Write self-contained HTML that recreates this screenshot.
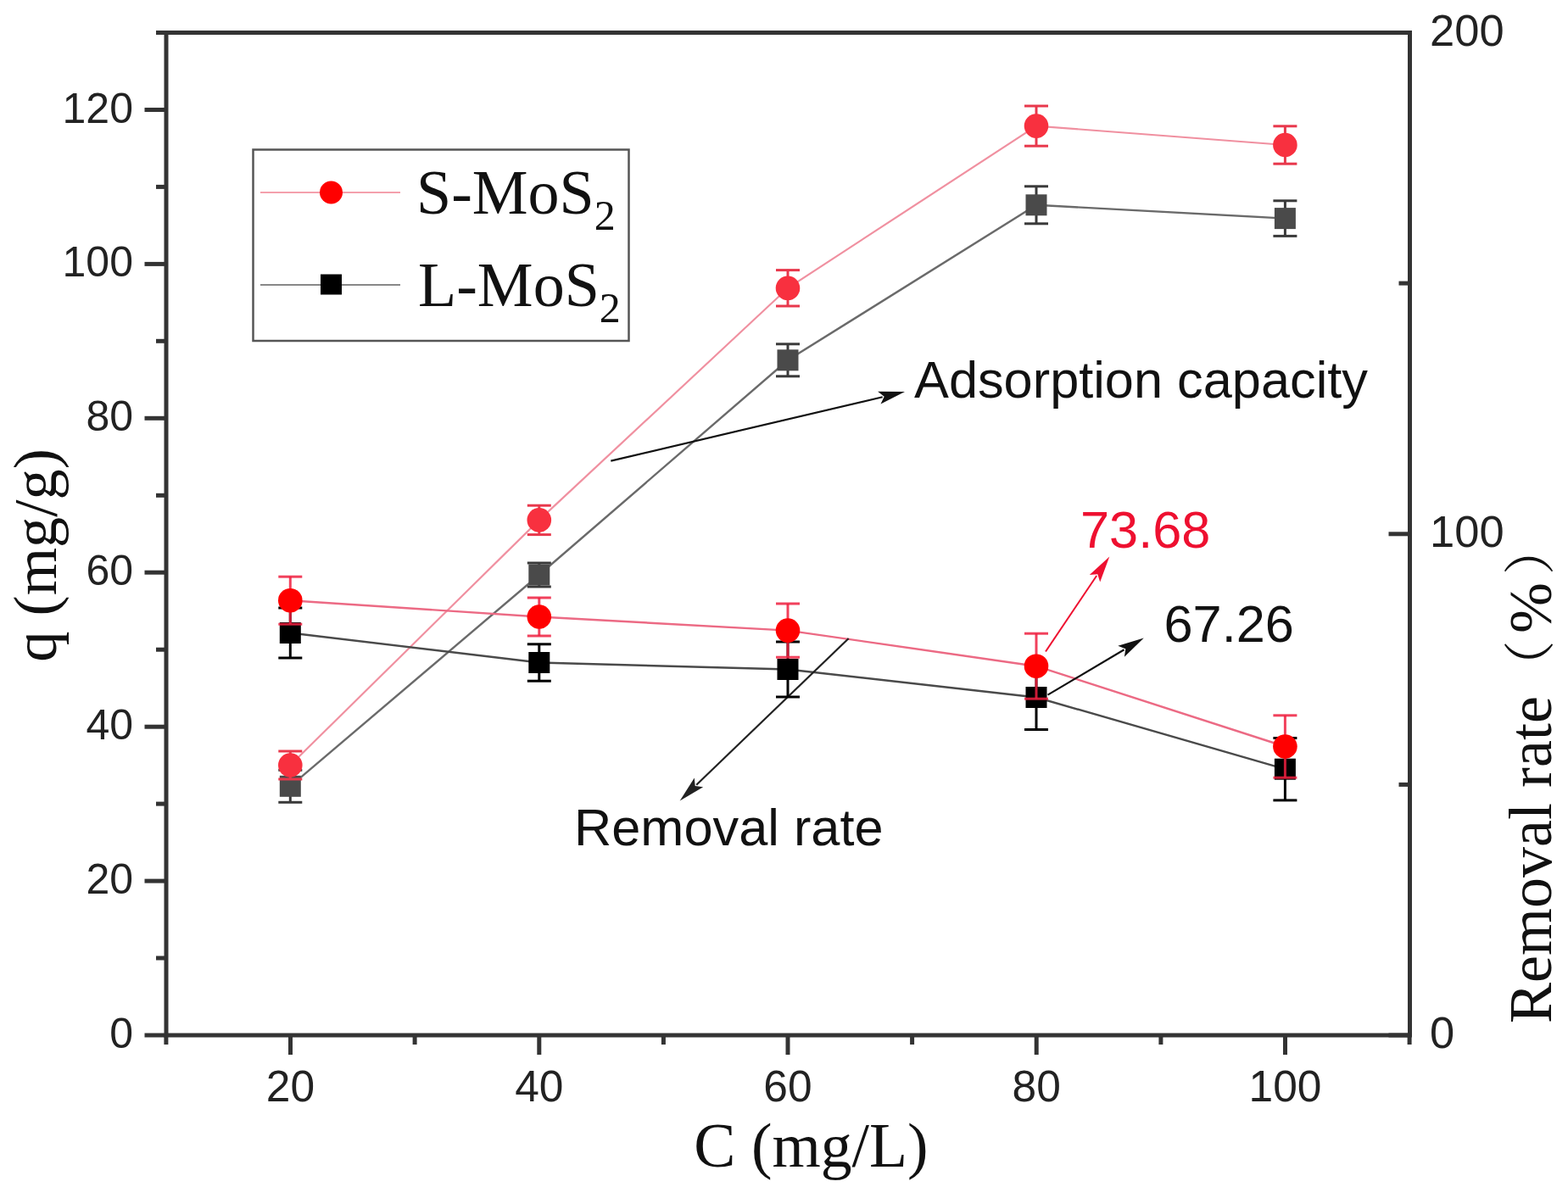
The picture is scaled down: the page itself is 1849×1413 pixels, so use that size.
<!DOCTYPE html>
<html><head><meta charset="utf-8"><title>Adsorption chart</title>
<style>
html,body{margin:0;padding:0;background:#fff;}
body{width:1849px;height:1413px;overflow:hidden;}
svg{display:block;}
</style></head>
<body>
<svg width="1849" height="1413" viewBox="0 0 1849 1413">
<rect width="1849" height="1413" fill="#fff"/>
<polyline points="342.3,902.5 635.8,613.4 929.0,339.8 1222.0,148.6 1515.4,171.0" fill="none" stroke="#f090a0" stroke-width="2.2" stroke-opacity="1.0"/>
<polyline points="342.3,927.3 635.8,678.0 929.0,424.8 1222.0,241.8 1515.4,257.6" fill="none" stroke="#6a6a6a" stroke-width="2.4" stroke-opacity="1.0"/>
<polyline points="342.3,708.2 635.8,727.5 929.0,743.6 1222.0,785.7 1515.4,880.5" fill="none" stroke="#ec6a84" stroke-width="2.4" stroke-opacity="1.0"/>
<polyline points="342.3,746.5 635.8,781.5 929.0,789.5 1222.0,822.5 1515.4,907.2" fill="none" stroke="#4a4a4a" stroke-width="2.4" stroke-opacity="1.0"/>
<line x1="720.3" y1="543.6" x2="1040.7" y2="468.2" stroke="#111" stroke-width="2.2"/>
<polygon points="1067.0,462.0 1038.5,476.4 1042.7,467.7 1035.1,461.8" fill="#111"/>
<line x1="1000.7" y1="753.0" x2="821.2" y2="925.7" stroke="#222" stroke-width="2.2"/>
<polygon points="801.7,944.4 818.8,917.5 819.7,927.1 829.2,928.3" fill="#222"/>
<line x1="1233.0" y1="768.5" x2="1293.2" y2="679.0" stroke="#ee1030" stroke-width="2.0"/>
<polygon points="1308.3,656.6 1297.2,686.5 1294.3,677.3 1284.8,678.1" fill="#ee1030"/>
<line x1="1235.5" y1="819.6" x2="1325.6" y2="766.3" stroke="#111" stroke-width="2.2"/>
<polygon points="1348.8,752.5 1325.9,774.7 1327.3,765.2 1318.3,761.8" fill="#111"/>
<g stroke="#3a3a3a" stroke-width="3" stroke-opacity="1.0" fill="none"><line x1="342.3" y1="908.3" x2="342.3" y2="946.3"/><line x1="328.3" y1="908.3" x2="356.3" y2="908.3"/><line x1="328.3" y1="946.3" x2="356.3" y2="946.3"/></g>
<rect x="329.8" y="914.8" width="25" height="25" fill="#4a4a4a" fill-opacity="1.0"/>
<g stroke="#3a3a3a" stroke-width="3" stroke-opacity="1.0" fill="none"><line x1="635.8" y1="664.0" x2="635.8" y2="692.0"/><line x1="621.8" y1="664.0" x2="649.8" y2="664.0"/><line x1="621.8" y1="692.0" x2="649.8" y2="692.0"/></g>
<rect x="623.3" y="665.5" width="25" height="25" fill="#4a4a4a" fill-opacity="1.0"/>
<g stroke="#3a3a3a" stroke-width="3" stroke-opacity="1.0" fill="none"><line x1="929.0" y1="405.8" x2="929.0" y2="443.8"/><line x1="915.0" y1="405.8" x2="943.0" y2="405.8"/><line x1="915.0" y1="443.8" x2="943.0" y2="443.8"/></g>
<rect x="916.5" y="412.3" width="25" height="25" fill="#4a4a4a" fill-opacity="1.0"/>
<g stroke="#3a3a3a" stroke-width="3" stroke-opacity="1.0" fill="none"><line x1="1222.0" y1="219.8" x2="1222.0" y2="263.8"/><line x1="1208.0" y1="219.8" x2="1236.0" y2="219.8"/><line x1="1208.0" y1="263.8" x2="1236.0" y2="263.8"/></g>
<rect x="1209.5" y="229.3" width="25" height="25" fill="#4a4a4a" fill-opacity="1.0"/>
<g stroke="#3a3a3a" stroke-width="3" stroke-opacity="1.0" fill="none"><line x1="1515.4" y1="236.8" x2="1515.4" y2="278.4"/><line x1="1501.4" y1="236.8" x2="1529.4" y2="236.8"/><line x1="1501.4" y1="278.4" x2="1529.4" y2="278.4"/></g>
<rect x="1502.9" y="245.1" width="25" height="25" fill="#4a4a4a" fill-opacity="1.0"/>
<g stroke="#e8384c" stroke-width="3" stroke-opacity="1.0" fill="none"><line x1="342.3" y1="886.0" x2="342.3" y2="919.0"/><line x1="328.3" y1="886.0" x2="356.3" y2="886.0"/><line x1="328.3" y1="919.0" x2="356.3" y2="919.0"/></g>
<circle cx="342.3" cy="902.5" r="14.3" fill="#f8303f" fill-opacity="1.0"/>
<g stroke="#e8384c" stroke-width="3" stroke-opacity="1.0" fill="none"><line x1="635.8" y1="596.2" x2="635.8" y2="630.6"/><line x1="621.8" y1="596.2" x2="649.8" y2="596.2"/><line x1="621.8" y1="630.6" x2="649.8" y2="630.6"/></g>
<circle cx="635.8" cy="613.4" r="14.3" fill="#f8303f" fill-opacity="1.0"/>
<g stroke="#e8384c" stroke-width="3" stroke-opacity="1.0" fill="none"><line x1="929.0" y1="318.6" x2="929.0" y2="361.0"/><line x1="915.0" y1="318.6" x2="943.0" y2="318.6"/><line x1="915.0" y1="361.0" x2="943.0" y2="361.0"/></g>
<circle cx="929.0" cy="339.8" r="14.3" fill="#f8303f" fill-opacity="1.0"/>
<g stroke="#e8384c" stroke-width="3" stroke-opacity="1.0" fill="none"><line x1="1222.0" y1="125.0" x2="1222.0" y2="172.2"/><line x1="1208.0" y1="125.0" x2="1236.0" y2="125.0"/><line x1="1208.0" y1="172.2" x2="1236.0" y2="172.2"/></g>
<circle cx="1222.0" cy="148.6" r="14.3" fill="#f8303f" fill-opacity="1.0"/>
<g stroke="#e8384c" stroke-width="3" stroke-opacity="1.0" fill="none"><line x1="1515.4" y1="148.8" x2="1515.4" y2="193.2"/><line x1="1501.4" y1="148.8" x2="1529.4" y2="148.8"/><line x1="1501.4" y1="193.2" x2="1529.4" y2="193.2"/></g>
<circle cx="1515.4" cy="171.0" r="14.3" fill="#f8303f" fill-opacity="1.0"/>
<g stroke="#000" stroke-width="3" stroke-opacity="1.0" fill="none"><line x1="342.3" y1="717.0" x2="342.3" y2="776.0"/><line x1="328.3" y1="717.0" x2="356.3" y2="717.0"/><line x1="328.3" y1="776.0" x2="356.3" y2="776.0"/></g>
<rect x="329.8" y="734.0" width="25" height="25" fill="#000" fill-opacity="1.0"/>
<g stroke="#000" stroke-width="3" stroke-opacity="1.0" fill="none"><line x1="635.8" y1="759.8" x2="635.8" y2="803.2"/><line x1="621.8" y1="759.8" x2="649.8" y2="759.8"/><line x1="621.8" y1="803.2" x2="649.8" y2="803.2"/></g>
<rect x="623.3" y="769.0" width="25" height="25" fill="#000" fill-opacity="1.0"/>
<g stroke="#000" stroke-width="3" stroke-opacity="1.0" fill="none"><line x1="929.0" y1="757.0" x2="929.0" y2="822.0"/><line x1="915.0" y1="757.0" x2="943.0" y2="757.0"/><line x1="915.0" y1="822.0" x2="943.0" y2="822.0"/></g>
<rect x="916.5" y="777.0" width="25" height="25" fill="#000" fill-opacity="1.0"/>
<g stroke="#000" stroke-width="3" stroke-opacity="1.0" fill="none"><line x1="1222.0" y1="784.5" x2="1222.0" y2="860.5"/><line x1="1208.0" y1="784.5" x2="1236.0" y2="784.5"/><line x1="1208.0" y1="860.5" x2="1236.0" y2="860.5"/></g>
<rect x="1209.5" y="810.0" width="25" height="25" fill="#000" fill-opacity="1.0"/>
<g stroke="#000" stroke-width="3" stroke-opacity="1.0" fill="none"><line x1="1515.4" y1="870.5" x2="1515.4" y2="943.9"/><line x1="1501.4" y1="870.5" x2="1529.4" y2="870.5"/><line x1="1501.4" y1="943.9" x2="1529.4" y2="943.9"/></g>
<rect x="1502.9" y="894.7" width="25" height="25" fill="#000" fill-opacity="1.0"/>
<g stroke="#ee2040" stroke-width="3" stroke-opacity="0.85" fill="none"><line x1="342.3" y1="680.2" x2="342.3" y2="736.2"/><line x1="328.3" y1="680.2" x2="356.3" y2="680.2"/><line x1="328.3" y1="736.2" x2="356.3" y2="736.2"/></g>
<circle cx="342.3" cy="708.2" r="14.3" fill="#ff0000" fill-opacity="1.0"/>
<g stroke="#ee2040" stroke-width="3" stroke-opacity="0.85" fill="none"><line x1="635.8" y1="705.0" x2="635.8" y2="750.0"/><line x1="621.8" y1="705.0" x2="649.8" y2="705.0"/><line x1="621.8" y1="750.0" x2="649.8" y2="750.0"/></g>
<circle cx="635.8" cy="727.5" r="14.3" fill="#ff0000" fill-opacity="1.0"/>
<g stroke="#ee2040" stroke-width="3" stroke-opacity="0.85" fill="none"><line x1="929.0" y1="712.0" x2="929.0" y2="775.2"/><line x1="915.0" y1="712.0" x2="943.0" y2="712.0"/><line x1="915.0" y1="775.2" x2="943.0" y2="775.2"/></g>
<circle cx="929.0" cy="743.6" r="14.3" fill="#ff0000" fill-opacity="1.0"/>
<g stroke="#ee2040" stroke-width="3" stroke-opacity="0.85" fill="none"><line x1="1222.0" y1="747.2" x2="1222.0" y2="824.2"/><line x1="1208.0" y1="747.2" x2="1236.0" y2="747.2"/><line x1="1208.0" y1="824.2" x2="1236.0" y2="824.2"/></g>
<circle cx="1222.0" cy="785.7" r="14.3" fill="#ff0000" fill-opacity="1.0"/>
<g stroke="#ee2040" stroke-width="3" stroke-opacity="0.85" fill="none"><line x1="1515.4" y1="843.8" x2="1515.4" y2="917.2"/><line x1="1501.4" y1="843.8" x2="1529.4" y2="843.8"/><line x1="1501.4" y1="917.2" x2="1529.4" y2="917.2"/></g>
<circle cx="1515.4" cy="880.5" r="14.3" fill="#ff0000" fill-opacity="1.0"/>
<g stroke="#333" stroke-width="5" fill="none" stroke-linecap="butt">
<rect x="196" y="38.5" width="1466.5" height="1182.5"/>
<line x1="170.5" y1="1221.0" x2="196" y2="1221.0"/>
<line x1="184" y1="1130.0" x2="196" y2="1130.0"/>
<line x1="170.5" y1="1039.1" x2="196" y2="1039.1"/>
<line x1="184" y1="948.1" x2="196" y2="948.1"/>
<line x1="170.5" y1="857.2" x2="196" y2="857.2"/>
<line x1="184" y1="766.2" x2="196" y2="766.2"/>
<line x1="170.5" y1="675.2" x2="196" y2="675.2"/>
<line x1="184" y1="584.3" x2="196" y2="584.3"/>
<line x1="170.5" y1="493.3" x2="196" y2="493.3"/>
<line x1="184" y1="402.3" x2="196" y2="402.3"/>
<line x1="170.5" y1="311.4" x2="196" y2="311.4"/>
<line x1="184" y1="220.4" x2="196" y2="220.4"/>
<line x1="170.5" y1="129.5" x2="196" y2="129.5"/>
<line x1="184" y1="38.5" x2="196" y2="38.5"/>
<line x1="195.9" y1="1221" x2="195.9" y2="1232"/>
<line x1="342.5" y1="1221" x2="342.5" y2="1244"/>
<line x1="489.1" y1="1221" x2="489.1" y2="1232"/>
<line x1="635.8" y1="1221" x2="635.8" y2="1244"/>
<line x1="782.4" y1="1221" x2="782.4" y2="1232"/>
<line x1="929.0" y1="1221" x2="929.0" y2="1244"/>
<line x1="1075.6" y1="1221" x2="1075.6" y2="1232"/>
<line x1="1222.2" y1="1221" x2="1222.2" y2="1244"/>
<line x1="1368.9" y1="1221" x2="1368.9" y2="1232"/>
<line x1="1515.5" y1="1221" x2="1515.5" y2="1244"/>
<line x1="1662.1" y1="1221" x2="1662.1" y2="1232"/>
<line x1="1637.5" y1="1221.0" x2="1662.5" y2="1221.0"/>
<line x1="1649.5" y1="925.4" x2="1662.5" y2="925.4"/>
<line x1="1637.5" y1="629.8" x2="1662.5" y2="629.8"/>
<line x1="1649.5" y1="334.1" x2="1662.5" y2="334.1"/>
</g>
<g font-family="'Liberation Sans', Arial, sans-serif" font-size="50" fill="#222">
<text x="157" y="1236.0" text-anchor="end">0</text>
<text x="157" y="1054.1" text-anchor="end">20</text>
<text x="157" y="872.2" text-anchor="end">40</text>
<text x="157" y="690.2" text-anchor="end">60</text>
<text x="157" y="508.3" text-anchor="end">80</text>
<text x="157" y="326.4" text-anchor="end">100</text>
<text x="157" y="144.5" text-anchor="end">120</text>
<text x="342.5" y="1298.5" font-size="51.5" text-anchor="middle">20</text>
<text x="635.8" y="1298.5" font-size="51.5" text-anchor="middle">40</text>
<text x="929.0" y="1298.5" font-size="51.5" text-anchor="middle">60</text>
<text x="1222.2" y="1298.5" font-size="51.5" text-anchor="middle">80</text>
<text x="1515.5" y="1298.5" font-size="51.5" text-anchor="middle">100</text>
<text x="1686" y="1236.0" font-size="52.5">0</text>
<text x="1686" y="644.8" font-size="52.5">100</text>
<text x="1686" y="53.5" font-size="52.5">200</text>
</g>
<text x="956.5" y="1376" font-family="'Liberation Serif', 'Times New Roman', serif" font-size="73.7" fill="#111" text-anchor="middle">C (mg/L)</text>
<text transform="translate(66,655) rotate(-90)" font-family="'Liberation Serif', 'Times New Roman', serif" font-size="72.5" fill="#111" text-anchor="middle">q (mg/g)</text>
<text transform="translate(1829,1207) rotate(-90)" font-family="'Liberation Serif', 'Noto Serif CJK SC', serif" font-size="72" fill="#111">Removal rate<tspan x="390.5" y="-3" font-size="61">（</tspan><tspan x="460" y="0">%</tspan><tspan x="529" y="-3" font-size="61">）</tspan></text>
<g font-family="'Liberation Sans', Arial, sans-serif" font-size="61.3" fill="#111">
<text x="1078" y="468.7">Adsorption capacity</text>
<text x="677" y="997.4">Removal rate</text>
<text x="1372.5" y="756.5">67.26</text>
<text x="1274" y="645.5" fill="#ee1030">73.68</text>
</g>
<rect x="298.5" y="176.5" width="443" height="225.5" fill="#fff" stroke="#555" stroke-width="2.5"/>
<line x1="307" y1="227" x2="472" y2="227" stroke="#f4a0ac" stroke-width="2"/>
<circle cx="390.5" cy="227" r="13.5" fill="#ff0000"/>
<line x1="307" y1="336" x2="472" y2="336" stroke="#888" stroke-width="2"/>
<rect x="378" y="323.5" width="25" height="24" fill="#000"/>
<g font-family="'Liberation Serif', 'Times New Roman', serif" fill="#111">
<text x="491" y="252" font-size="74">S-MoS<tspan font-size="50" dy="19">2</tspan></text>
<text x="493" y="361" font-size="74">L-MoS<tspan font-size="50" dy="19">2</tspan></text>
</g>
</svg>
</body></html>
